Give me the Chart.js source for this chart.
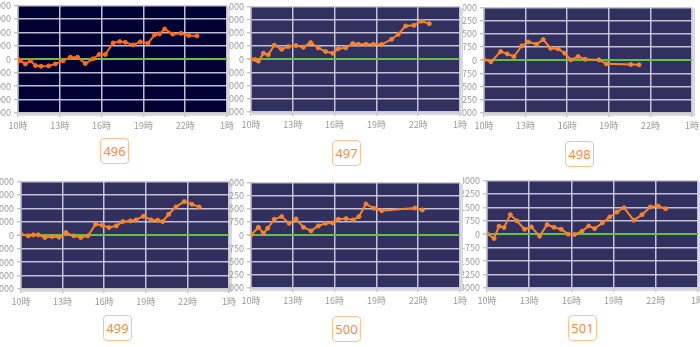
<!DOCTYPE html>
<html>
<head>
<meta charset="utf-8">
<script src="https://cdn.jsdelivr.net/npm/chart.js@4.4.1/dist/chart.umd.min.js"></script>
<style>
  body { margin:0; background:#fff; width:700px; height:347px; overflow:hidden; position:relative; }
  .col { position:absolute; top:0; height:347px; overflow:hidden; }
  .col canvas { position:absolute; }
  .tag { position:absolute; width:27px; height:24px; border:1.5px solid #ffc092; border-radius:4px;
         color:#ff8a3a; font:13px "Noto Sans", sans-serif; text-align:center; line-height:24px; background:#fff; }
</style>
</head>
<body>
<script>
  // hours since 0時 (25 = 翌1時), values per store number
  const hours496 = [10.0, 10.17, 10.53, 10.89, 11.25, 11.65, 12.2, 12.68, 13.23, 13.76, 14.28, 14.83, 15.38, 15.83, 16.27, 16.82, 17.3, 17.7, 18.25, 18.78, 19.33, 19.8, 20.15, 20.53, 21.1, 21.7, 22.25, 22.85];
  const vals496  = [0, -100, -350, -120, -470, -520, -500, -350, -120, 150, 150, -320, 25, 350, 350, 1210, 1310, 1260, 1060, 1290, 1190, 1810, 1880, 2250, 1860, 1930, 1760, 1730];

  const hours497 = [10.0, 10.29, 10.53, 10.89, 11.24, 11.67, 12.2, 12.68, 13.23, 13.76, 14.28, 14.83, 15.36, 15.86, 16.27, 16.8, 17.3, 17.7, 18.25, 18.78, 19.38, 20.09, 20.57, 21.1, 21.7, 22.25, 22.8];
  const vals497  = [0, -25, -150, 450, 330, 1060, 750, 960, 1030, 910, 1260, 860, 580, 450, 800, 860, 1180, 1130, 1130, 1130, 1110, 1510, 1890, 2520, 2570, 2890, 2690];

  const hours498 = [10.0, 10.5, 11.2, 11.68, 12.16, 12.71, 13.19, 13.79, 14.27, 14.8, 15.35, 15.83, 16.26, 16.79, 17.3, 18.28, 18.83, 20.58, 21.18];
  const vals498  = [38, -94, 490, 358, 208, 811, 1038, 906, 1170, 679, 642, 396, 19, 208, 57, 19, -208, -245, -264];

  const hours499 = [10.0, 10.53, 10.89, 11.24, 11.72, 12.25, 12.75, 13.23, 13.8, 14.31, 14.83, 15.38, 15.86, 16.34, 16.87, 17.34, 17.89, 18.3, 18.83, 19.38, 19.86, 20.22, 20.65, 21.17, 21.77, 22.32, 22.85];
  const vals499  = [75, -50, 25, 25, -173, -99, -149, 198, -50, -173, -50, 817, 743, 569, 693, 1015, 1064, 1139, 1411, 1139, 1114, 1015, 1559, 2104, 2500, 2302, 2104];

  const hours500 = [10.0, 10.53, 10.89, 11.2, 11.67, 12.2, 12.73, 13.23, 13.76, 14.31, 14.83, 15.36, 15.86, 16.27, 16.82, 17.34, 17.75, 18.25, 18.83, 19.38, 21.77, 22.3];
  const vals500  = [0, 453, 113, 396, 906, 1057, 679, 925, 453, 245, 528, 679, 698, 906, 943, 868, 1057, 1774, 1528, 1396, 1547, 1434];

  const hours501 = [10.0, 10.5, 10.85, 11.21, 11.66, 12.13, 12.68, 13.15, 13.74, 14.27, 14.76, 15.28, 15.78, 16.23, 16.75, 17.23, 17.65, 18.2, 18.72, 19.24, 19.74, 20.43, 21.02, 21.61, 22.16, 22.7];
  const vals501  = [37, -240, 443, 370, 1090, 739, 277, 406, -111, 536, 388, 277, 0, -18, 166, 462, 314, 628, 960, 1238, 1478, 776, 1090, 1515, 1570, 1422];

  const xTicks = [10, 13, 16, 19, 22, 25];

  const panels = [
    { name:'496', hours:hours496, vals:vals496, lim:4000, step:1000, bg:'#000033', line:'#ff6a12', clip:0,   plot:[18, 227, 5, 113],      tag:[100, 138] },
    { name:'497', hours:hours497, vals:vals497, lim:4000, step:1000, bg:'#32305e', line:'#f7842a', clip:229, plot:[251, 460, 5.7, 111.7], tag:[332, 140] },
    { name:'498', hours:hours498, vals:vals498, lim:3000, step:750,  bg:'#32305e', line:'#f7842a', clip:463, plot:[484, 692, 6.7, 112.7], tag:[565, 141] },
    { name:'499', hours:hours499, vals:vals499, lim:4000, step:1000, bg:'#32305e', line:'#f7842a', clip:0,   plot:[21, 229, 180.7, 288.3], tag:[103, 315] },
    { name:'500', hours:hours500, vals:vals500, lim:3000, step:750,  bg:'#32305e', line:'#f7842a', clip:229, plot:[251, 460, 182.3, 288.3], tag:[332, 316] },
    { name:'501', hours:hours501, vals:vals501, lim:3000, step:750,  bg:'#32305e', line:'#f7842a', clip:463, plot:[487, 698, 180, 288.3],  tag:[568, 315] },
  ];

  const plotBg = {
    id: 'plotBg',
    beforeDraw(chart, args, opts) {
      const {ctx, chartArea: {left, top, width, height}} = chart;
      ctx.save();
      ctx.fillStyle = '#d9d9de';
      ctx.fillRect(left + 1, top + 1, width + 2, height + 2);
      ctx.fillStyle = opts.color;
      ctx.fillRect(left, top, width, height);
      ctx.restore();
    }
  };

  const yW = 34, padTop = 8, padRight = 10, xH = 22;
  const grid = 'rgba(210,210,226,0.9)';
  const font = { family: '"Noto Sans CJK JP", "Noto Sans", sans-serif', size: 9 };

  panels.forEach(p => {
    const [pl, pr, pt, pb] = p.plot;
    const col = document.createElement('div');
    col.className = 'col';
    col.style.left = p.clip + 'px';
    col.style.width = (700 - p.clip) + 'px';
    const cv = document.createElement('canvas');
    const w = Math.round(pr - pl + yW + padRight), h = Math.round(pb - pt + padTop + xH);
    cv.width = w; cv.height = h;
    cv.style.width = w + 'px'; cv.style.height = h + 'px';
    cv.style.left = (pl - yW - p.clip) + 'px';
    cv.style.top = (pt - padTop) + 'px';
    col.appendChild(cv);
    document.body.appendChild(col);

    new Chart(cv, {
      type: 'line',
      data: {
        datasets: [{
          data: p.hours.map((x, i) => ({ x: x, y: p.vals[i] })),
          borderColor: p.line,
          backgroundColor: p.line,
          borderWidth: 2,
          pointRadius: 2,
          pointBorderWidth: 1,
          tension: 0
        }]
      },
      options: {
        responsive: false,
        animation: false,
        events: [],
        layout: { padding: { top: padTop, right: padRight, left: 0, bottom: 0 } },
        plugins: { legend: { display: false }, tooltip: { enabled: false }, plotBg: { color: p.bg } },
        scales: {
          x: {
            type: 'linear', min: 10, max: 25,
            afterBuildTicks: s => { s.ticks = xTicks.map(v => ({ value: v })); },
            afterFit: s => { s.height = xH; },
            ticks: { callback: v => (v % 24) + '時', color: '#9a9a9a', font: font, padding: 3, autoSkip: false, maxRotation: 0 },
            grid: { color: grid, lineWidth: 1.5, tickLength: 4, tickColor: '#c8c8c8' },
            border: { color: '#c8c8cc', width: 1.5 }
          },
          y: {
            min: -p.lim, max: p.lim,
            ticks: { stepSize: p.step, callback: v => String(v), color: '#9a9a9a', font: font, padding: 3, autoSkip: false },
            afterFit: s => { s.width = yW; },
            grid: {
              color: c => c.tick && c.tick.value === 0 ? '#62c046' : grid,
              lineWidth: c => c.tick && c.tick.value === 0 ? 2 : 1.5,
              tickLength: 4, tickColor: '#c8c8c8'
            },
            border: { color: '#c8c8cc', width: 1.5 }
          }
        }
      },
      plugins: [plotBg]
    });

    const tag = document.createElement('div');
    tag.className = 'tag';
    tag.textContent = p.name;
    tag.style.left = p.tag[0] + 'px';
    tag.style.top = p.tag[1] + 'px';
    document.body.appendChild(tag);
  });
</script>
</body>
</html>
